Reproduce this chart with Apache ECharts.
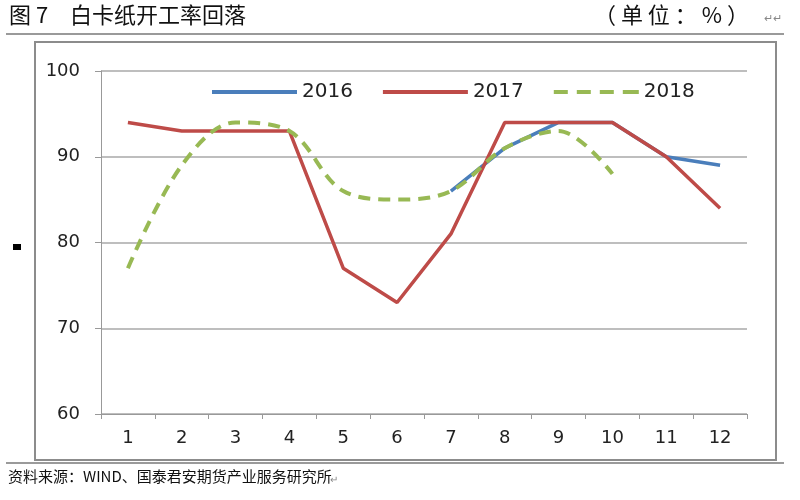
<!DOCTYPE html>
<html><head><meta charset="utf-8">
<script src="https://cdn.jsdelivr.net/npm/echarts@6/dist/echarts.min.js"></script>
<style>html,body{margin:0;padding:0;background:#fff}#c{width:800px;height:500px}</style>
</head><body><div id="c"></div>
<script>
var months = ['1','2','3','4','5','6','7','8','9','10','11','12'];
var s2016 = [null,null,null,null,null,null,86,91,94,94,90,89];
var s2017 = [94,93,93,93,77,73,81,94,94,94,90,84];
var s2018 = [77,89,94,93,86,85,86,91,93,88,null,null];
var yTicks = [60,70,80,90,100];

var chart = echarts.init(document.getElementById('c'));
var cjk = '"Noto Sans CJK SC", sans-serif';
var solidIcon = 'path://M0,0H85V4H0Z';
var dashIcon = 'path://M0,0H14V4H0Z M23,0H37V4H23Z M46,0H60V4H46Z M69,0H85V4H69Z';
chart.setOption({
  animation:false,
  backgroundColor:'#fff',
  grid:{left:101,right:53,top:71,bottom:86},
  legend:{
    top:77, left:207, itemWidth:85, itemHeight:4, itemGap:30,
    textStyle:{fontFamily:'DejaVu Sans',fontSize:20,color:'#222'},
    data:[{name:'2016',icon:solidIcon},{name:'2017',icon:solidIcon},{name:'2018',icon:dashIcon}]
  },
  xAxis:{
    type:'category', data:months, boundaryGap:true,
    axisLine:{lineStyle:{color:'#999',width:1}},
    axisTick:{show:true,length:5,inside:false,lineStyle:{color:'#999'}},
    axisLabel:{fontFamily:'DejaVu Sans',fontSize:18,color:'#222',margin:15}
  },
  yAxis:{
    type:'value', min:yTicks[0], max:yTicks[yTicks.length-1], interval:10,
    axisLine:{show:true,lineStyle:{color:'#999'}},
    axisTick:{show:true,length:6,lineStyle:{color:'#999'}},
    axisLabel:{fontFamily:'DejaVu Sans',fontSize:18,color:'#222',margin:21},
    splitLine:{lineStyle:{color:'#a8a8a8',width:1.5}}
  },
  series:[
    {name:'2016',type:'line',data:s2016,symbol:'none',lineStyle:{color:'#4a7ebb',width:3.5},itemStyle:{color:'#4a7ebb'}},
    {name:'2017',type:'line',data:s2017,symbol:'none',lineStyle:{color:'#be4b48',width:3.5},itemStyle:{color:'#be4b48'}},
    {name:'2018',type:'line',data:s2018,symbol:'none',smooth:0.35,lineStyle:{color:'#98b954',width:4,type:[12,8]},itemStyle:{color:'#98b954'}}
  ],
  graphic:[
    {type:'rect',shape:{x:35,y:42,width:741,height:418},style:{fill:'none',stroke:'#8c8c8c',lineWidth:2},z:-1},
    {type:'line',shape:{x1:6,y1:34,x2:784,y2:34},style:{stroke:'#9a9a9a',lineWidth:2}},
    {type:'line',shape:{x1:6,y1:463,x2:784,y2:463},style:{stroke:'#9a9a9a',lineWidth:2}},
    {type:'text',left:9,top:4,style:{text:'图 7',font:'22px '+cjk,fill:'#111'}},
    {type:'text',left:70,top:4,style:{text:'白卡纸开工率回落',font:'22px '+cjk,fill:'#111'}},
    {type:'text',left:594,top:4,style:{text:'（ 单 位 ： % ）',font:'22px '+cjk,fill:'#111'}},
    {type:'text',left:764,top:12,style:{text:'↵↵',font:'11px '+cjk,fill:'#888'}},
    {type:'text',left:8,top:469,style:{text:'资料来源：WIND、国泰君安期货产业服务研究所',font:'15px '+cjk,fill:'#111'}},
    {type:'text',left:330,top:474,style:{text:'↵',font:'10px '+cjk,fill:'#888'}},
    {type:'rect',shape:{x:13,y:244,width:8,height:6},style:{fill:'#000'}}
  ]
});
</script></body></html>
